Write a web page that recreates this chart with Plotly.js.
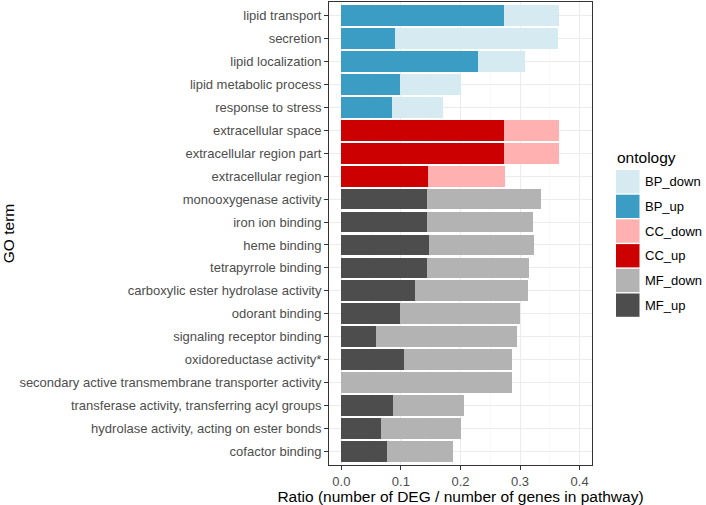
<!DOCTYPE html>
<html>
<head>
<meta charset="utf-8">
<script src="https://cdn.plot.ly/plotly-3.0.1.min.js"></script>
<style>
  html, body { margin: 0; padding: 0; background: #fff; }
  #chart { width: 706px; height: 505px; }
</style>
</head>
<body>
<div id="chart"></div>
<script>
// GO terms, top to bottom
var terms = [
  'lipid transport', 'secretion', 'lipid localization', 'lipid metabolic process',
  'response to stress', 'extracellular space', 'extracellular region part',
  'extracellular region', 'monooxygenase activity', 'iron ion binding',
  'heme binding', 'tetrapyrrole binding', 'carboxylic ester hydrolase activity',
  'odorant binding', 'signaling receptor binding', 'oxidoreductase activity*',
  'secondary active transmembrane transporter activity',
  'transferase activity, transferring acyl groups',
  'hydrolase activity, acting on ester bonds', 'cofactor binding'
];
var ontology = ['BP', 'BP', 'BP', 'BP', 'BP', 'CC', 'CC', 'CC',
  'MF', 'MF', 'MF', 'MF', 'MF', 'MF', 'MF', 'MF', 'MF', 'MF', 'MF', 'MF'];
var upRatio = [0.273, 0.090, 0.230, 0.099, 0.085, 0.273, 0.273, 0.145,
  0.143, 0.143, 0.147, 0.143, 0.124, 0.099, 0.059, 0.106, 0, 0.087, 0.067, 0.077];
var downRatio = [0.093, 0.274, 0.078, 0.102, 0.086, 0.093, 0.093, 0.130,
  0.192, 0.179, 0.177, 0.172, 0.189, 0.201, 0.236, 0.180, 0.286, 0.119, 0.134, 0.111];
var xTicks = [0, 0.1, 0.2, 0.3, 0.4];
var xTickText = ['0.0', '0.1', '0.2', '0.3', '0.4'];

var colours = {
  BP_down: '#d6eaf2', BP_up: '#3c9dc4',
  CC_down: '#ffb1b1', CC_up: '#cc0000',
  MF_down: '#b3b3b3', MF_up: '#4d4d4d'
};
var legendOrder = ['BP_down', 'BP_up', 'CC_down', 'CC_up', 'MF_down', 'MF_up'];

function makeTrace(ont, dir) {
  var name = ont + '_' + dir;
  var vals = dir === 'up' ? upRatio : downRatio;
  var x = [], y = [];
  for (var i = 0; i < terms.length; i++) {
    if (ontology[i] === ont) { x.push(vals[i]); y.push(terms[i]); }
  }
  return {
    type: 'bar', orientation: 'h', name: name, x: x, y: y,
    marker: { color: colours[name] },
    hoverinfo: 'x+y+name'
  };
}

// up first so it sits next to zero, down stacked on top
var data = [
  makeTrace('BP', 'up'), makeTrace('CC', 'up'), makeTrace('MF', 'up'),
  makeTrace('BP', 'down'), makeTrace('CC', 'down'), makeTrace('MF', 'down')
];

// plot area in pixels, used to place the ggplot-style legend
var W = 706, H = 505;
var mL = 329, mR = 114, mT = 2, mB = 40;
var pw = W - mL - mR, ph = H - mT - mB;
function px(x) { return (x - mL) / pw; }
function py(y) { return 1 - (y - mT) / ph; }

var shapes = [], annotations = [];
annotations.push({
  xref: 'paper', yref: 'paper', x: px(615), y: py(157),
  xanchor: 'left', yanchor: 'middle', showarrow: false,
  text: 'ontology', font: { size: 15.5, color: '#000' }
});
legendOrder.forEach(function (name, i) {
  var top = 170 + i * 24.7;
  shapes.push({
    type: 'rect', xref: 'paper', yref: 'paper',
    x0: px(616), x1: px(639.5), y0: py(top), y1: py(top + 23.3),
    fillcolor: colours[name], line: { width: 0 }
  });
  annotations.push({
    xref: 'paper', yref: 'paper', x: px(643), y: py(top + 11.8),
    xanchor: 'left', yanchor: 'middle', showarrow: false,
    text: name, font: { size: 13, color: '#000' }
  });
});

var layout = {
  width: W, height: H,
  margin: { l: mL, r: mR, t: mT, b: mB, pad: 0 },
  barmode: 'stack', bargap: 0.1,
  showlegend: false,
  paper_bgcolor: '#fff', plot_bgcolor: '#fff',
  font: { family: 'Liberation Sans, Arial, sans-serif', color: '#4d4d4d', size: 13 },
  xaxis: {
    range: [-0.0207, 0.4208],
    tickvals: xTicks, ticktext: xTickText,
    ticks: 'outside', ticklen: 4, tickcolor: '#333', tickwidth: 1,
    tickfont: { size: 13, color: '#4d4d4d' },
    showgrid: true, gridcolor: '#ebebeb', gridwidth: 1,
    minor: { tickvals: [0.05, 0.15, 0.25, 0.35], showgrid: true, gridcolor: '#f3f3f3', gridwidth: 0.6, ticks: '' },
    zeroline: false,
    showline: true, mirror: true, linecolor: '#333', linewidth: 1,
    automargin: false,
    title: { text: 'Ratio (number of DEG / number of genes in pathway)', font: { size: 15.5, color: '#000' }, standoff: 2 }
  },
  yaxis: {
    type: 'category',
    categoryorder: 'array', categoryarray: terms.slice().reverse(),
    range: [-0.6, terms.length - 0.4],
    ticks: 'outside', ticklen: 4, tickcolor: '#333', tickwidth: 1,
    tickfont: { size: 13, color: '#4d4d4d' },
    showgrid: true, gridcolor: '#ebebeb', gridwidth: 1,
    zeroline: false,
    showline: true, mirror: true, linecolor: '#333', linewidth: 1,
    automargin: false,
    title: { text: 'GO term', font: { size: 15.5, color: '#000' }, standoff: 5 }
  },
  shapes: shapes,
  annotations: annotations
};

Plotly.newPlot('chart', data, layout, { displayModeBar: false, staticPlot: true });
</script>
</body>
</html>
